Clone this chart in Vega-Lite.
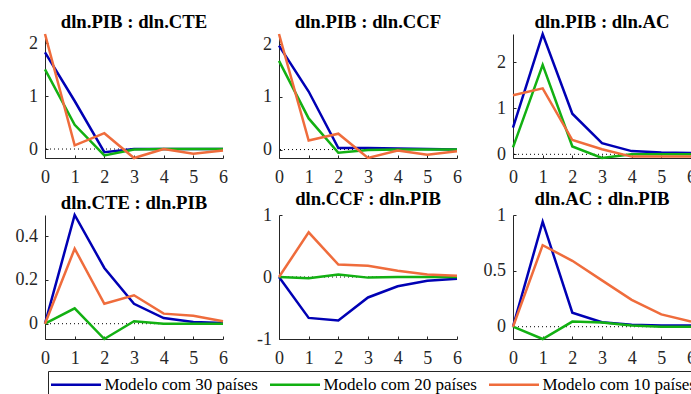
{
  "$schema": "https://vega.github.io/schema/vega-lite/v6.json",
  "padding": {"left": 15, "top": 13, "right": 0, "bottom": 0},
  "background": "white",
  "data": {
    "values": [
      {"painel": "dln.PIB : dln.CTE", "modelo": "Modelo com 30 países", "h": 0, "valor": 1.83},
      {"painel": "dln.PIB : dln.CTE", "modelo": "Modelo com 30 países", "h": 1, "valor": 0.91},
      {"painel": "dln.PIB : dln.CTE", "modelo": "Modelo com 30 países", "h": 2, "valor": -0.06},
      {"painel": "dln.PIB : dln.CTE", "modelo": "Modelo com 30 países", "h": 3, "valor": 0.0},
      {"painel": "dln.PIB : dln.CTE", "modelo": "Modelo com 30 países", "h": 4, "valor": 0.0},
      {"painel": "dln.PIB : dln.CTE", "modelo": "Modelo com 30 países", "h": 5, "valor": 0.0},
      {"painel": "dln.PIB : dln.CTE", "modelo": "Modelo com 30 países", "h": 6, "valor": 0.0},
      {"painel": "dln.PIB : dln.CTE", "modelo": "Modelo com 20 países", "h": 0, "valor": 1.51},
      {"painel": "dln.PIB : dln.CTE", "modelo": "Modelo com 20 países", "h": 1, "valor": 0.46},
      {"painel": "dln.PIB : dln.CTE", "modelo": "Modelo com 20 países", "h": 2, "valor": -0.12},
      {"painel": "dln.PIB : dln.CTE", "modelo": "Modelo com 20 países", "h": 3, "valor": -0.01},
      {"painel": "dln.PIB : dln.CTE", "modelo": "Modelo com 20 países", "h": 4, "valor": 0.0},
      {"painel": "dln.PIB : dln.CTE", "modelo": "Modelo com 20 países", "h": 5, "valor": 0.0},
      {"painel": "dln.PIB : dln.CTE", "modelo": "Modelo com 20 países", "h": 6, "valor": 0.0},
      {"painel": "dln.PIB : dln.CTE", "modelo": "Modelo com 10 países", "h": 0, "valor": 2.18},
      {"painel": "dln.PIB : dln.CTE", "modelo": "Modelo com 10 países", "h": 1, "valor": 0.07},
      {"painel": "dln.PIB : dln.CTE", "modelo": "Modelo com 10 países", "h": 2, "valor": 0.30},
      {"painel": "dln.PIB : dln.CTE", "modelo": "Modelo com 10 países", "h": 3, "valor": -0.17},
      {"painel": "dln.PIB : dln.CTE", "modelo": "Modelo com 10 países", "h": 4, "valor": 0.0},
      {"painel": "dln.PIB : dln.CTE", "modelo": "Modelo com 10 países", "h": 5, "valor": -0.09},
      {"painel": "dln.PIB : dln.CTE", "modelo": "Modelo com 10 países", "h": 6, "valor": -0.03},

      {"painel": "dln.PIB : dln.CCF", "modelo": "Modelo com 30 países", "h": 0, "valor": 1.97},
      {"painel": "dln.PIB : dln.CCF", "modelo": "Modelo com 30 países", "h": 1, "valor": 1.10},
      {"painel": "dln.PIB : dln.CCF", "modelo": "Modelo com 30 países", "h": 2, "valor": 0.03},
      {"painel": "dln.PIB : dln.CCF", "modelo": "Modelo com 30 países", "h": 3, "valor": 0.03},
      {"painel": "dln.PIB : dln.CCF", "modelo": "Modelo com 30 países", "h": 4, "valor": 0.02},
      {"painel": "dln.PIB : dln.CCF", "modelo": "Modelo com 30 países", "h": 5, "valor": 0.01},
      {"painel": "dln.PIB : dln.CCF", "modelo": "Modelo com 30 países", "h": 6, "valor": 0.0},
      {"painel": "dln.PIB : dln.CCF", "modelo": "Modelo com 20 países", "h": 0, "valor": 1.68},
      {"painel": "dln.PIB : dln.CCF", "modelo": "Modelo com 20 países", "h": 1, "valor": 0.59},
      {"painel": "dln.PIB : dln.CCF", "modelo": "Modelo com 20 países", "h": 2, "valor": -0.06},
      {"painel": "dln.PIB : dln.CCF", "modelo": "Modelo com 20 países", "h": 3, "valor": -0.01},
      {"painel": "dln.PIB : dln.CCF", "modelo": "Modelo com 20 países", "h": 4, "valor": 0.0},
      {"painel": "dln.PIB : dln.CCF", "modelo": "Modelo com 20 países", "h": 5, "valor": 0.0},
      {"painel": "dln.PIB : dln.CCF", "modelo": "Modelo com 20 países", "h": 6, "valor": 0.0},
      {"painel": "dln.PIB : dln.CCF", "modelo": "Modelo com 10 países", "h": 0, "valor": 2.19},
      {"painel": "dln.PIB : dln.CCF", "modelo": "Modelo com 10 países", "h": 1, "valor": 0.17},
      {"painel": "dln.PIB : dln.CCF", "modelo": "Modelo com 10 países", "h": 2, "valor": 0.30},
      {"painel": "dln.PIB : dln.CCF", "modelo": "Modelo com 10 países", "h": 3, "valor": -0.16},
      {"painel": "dln.PIB : dln.CCF", "modelo": "Modelo com 10 países", "h": 4, "valor": -0.02},
      {"painel": "dln.PIB : dln.CCF", "modelo": "Modelo com 10 países", "h": 5, "valor": -0.10},
      {"painel": "dln.PIB : dln.CCF", "modelo": "Modelo com 10 países", "h": 6, "valor": -0.03},

      {"painel": "dln.PIB : dln.AC", "modelo": "Modelo com 30 países", "h": 0, "valor": 0.58},
      {"painel": "dln.PIB : dln.AC", "modelo": "Modelo com 30 países", "h": 1, "valor": 2.61},
      {"painel": "dln.PIB : dln.AC", "modelo": "Modelo com 30 países", "h": 2, "valor": 0.88},
      {"painel": "dln.PIB : dln.AC", "modelo": "Modelo com 30 países", "h": 3, "valor": 0.24},
      {"painel": "dln.PIB : dln.AC", "modelo": "Modelo com 30 países", "h": 4, "valor": 0.07},
      {"painel": "dln.PIB : dln.AC", "modelo": "Modelo com 30 países", "h": 5, "valor": 0.04},
      {"painel": "dln.PIB : dln.AC", "modelo": "Modelo com 30 países", "h": 6, "valor": 0.03},
      {"painel": "dln.PIB : dln.AC", "modelo": "Modelo com 20 países", "h": 0, "valor": 0.15},
      {"painel": "dln.PIB : dln.AC", "modelo": "Modelo com 20 países", "h": 1, "valor": 1.94},
      {"painel": "dln.PIB : dln.AC", "modelo": "Modelo com 20 países", "h": 2, "valor": 0.17},
      {"painel": "dln.PIB : dln.AC", "modelo": "Modelo com 20 países", "h": 3, "valor": -0.08},
      {"painel": "dln.PIB : dln.AC", "modelo": "Modelo com 20 países", "h": 4, "valor": 0.0},
      {"painel": "dln.PIB : dln.AC", "modelo": "Modelo com 20 países", "h": 5, "valor": 0.0},
      {"painel": "dln.PIB : dln.AC", "modelo": "Modelo com 20 países", "h": 6, "valor": 0.0},
      {"painel": "dln.PIB : dln.AC", "modelo": "Modelo com 10 países", "h": 0, "valor": 1.28},
      {"painel": "dln.PIB : dln.AC", "modelo": "Modelo com 10 países", "h": 1, "valor": 1.43},
      {"painel": "dln.PIB : dln.AC", "modelo": "Modelo com 10 países", "h": 2, "valor": 0.31},
      {"painel": "dln.PIB : dln.AC", "modelo": "Modelo com 10 países", "h": 3, "valor": 0.11},
      {"painel": "dln.PIB : dln.AC", "modelo": "Modelo com 10 países", "h": 4, "valor": -0.05},
      {"painel": "dln.PIB : dln.AC", "modelo": "Modelo com 10 países", "h": 5, "valor": -0.05},
      {"painel": "dln.PIB : dln.AC", "modelo": "Modelo com 10 países", "h": 6, "valor": -0.05},

      {"painel": "dln.CTE : dln.PIB", "modelo": "Modelo com 30 países", "h": 0, "valor": 0.0},
      {"painel": "dln.CTE : dln.PIB", "modelo": "Modelo com 30 países", "h": 1, "valor": 0.497},
      {"painel": "dln.CTE : dln.PIB", "modelo": "Modelo com 30 países", "h": 2, "valor": 0.255},
      {"painel": "dln.CTE : dln.PIB", "modelo": "Modelo com 30 países", "h": 3, "valor": 0.091},
      {"painel": "dln.CTE : dln.PIB", "modelo": "Modelo com 30 países", "h": 4, "valor": 0.026},
      {"painel": "dln.CTE : dln.PIB", "modelo": "Modelo com 30 países", "h": 5, "valor": 0.008},
      {"painel": "dln.CTE : dln.PIB", "modelo": "Modelo com 30 países", "h": 6, "valor": 0.003},
      {"painel": "dln.CTE : dln.PIB", "modelo": "Modelo com 20 países", "h": 0, "valor": 0.0},
      {"painel": "dln.CTE : dln.PIB", "modelo": "Modelo com 20 países", "h": 1, "valor": 0.07},
      {"painel": "dln.CTE : dln.PIB", "modelo": "Modelo com 20 países", "h": 2, "valor": -0.07},
      {"painel": "dln.CTE : dln.PIB", "modelo": "Modelo com 20 países", "h": 3, "valor": 0.011},
      {"painel": "dln.CTE : dln.PIB", "modelo": "Modelo com 20 países", "h": 4, "valor": 0.0},
      {"painel": "dln.CTE : dln.PIB", "modelo": "Modelo com 20 países", "h": 5, "valor": 0.0},
      {"painel": "dln.CTE : dln.PIB", "modelo": "Modelo com 20 países", "h": 6, "valor": 0.0},
      {"painel": "dln.CTE : dln.PIB", "modelo": "Modelo com 10 países", "h": 0, "valor": 0.0},
      {"painel": "dln.CTE : dln.PIB", "modelo": "Modelo com 10 países", "h": 1, "valor": 0.343},
      {"painel": "dln.CTE : dln.PIB", "modelo": "Modelo com 10 países", "h": 2, "valor": 0.091},
      {"painel": "dln.CTE : dln.PIB", "modelo": "Modelo com 10 países", "h": 3, "valor": 0.13},
      {"painel": "dln.CTE : dln.PIB", "modelo": "Modelo com 10 países", "h": 4, "valor": 0.046},
      {"painel": "dln.CTE : dln.PIB", "modelo": "Modelo com 10 países", "h": 5, "valor": 0.036},
      {"painel": "dln.CTE : dln.PIB", "modelo": "Modelo com 10 países", "h": 6, "valor": 0.011},

      {"painel": "dln.CCF : dln.PIB", "modelo": "Modelo com 30 países", "h": 0, "valor": 0.0},
      {"painel": "dln.CCF : dln.PIB", "modelo": "Modelo com 30 países", "h": 1, "valor": -0.66},
      {"painel": "dln.CCF : dln.PIB", "modelo": "Modelo com 30 países", "h": 2, "valor": -0.70},
      {"painel": "dln.CCF : dln.PIB", "modelo": "Modelo com 30 países", "h": 3, "valor": -0.33},
      {"painel": "dln.CCF : dln.PIB", "modelo": "Modelo com 30 países", "h": 4, "valor": -0.15},
      {"painel": "dln.CCF : dln.PIB", "modelo": "Modelo com 30 países", "h": 5, "valor": -0.06},
      {"painel": "dln.CCF : dln.PIB", "modelo": "Modelo com 30 países", "h": 6, "valor": -0.03},
      {"painel": "dln.CCF : dln.PIB", "modelo": "Modelo com 20 países", "h": 0, "valor": 0.0},
      {"painel": "dln.CCF : dln.PIB", "modelo": "Modelo com 20 países", "h": 1, "valor": -0.02},
      {"painel": "dln.CCF : dln.PIB", "modelo": "Modelo com 20 países", "h": 2, "valor": 0.04},
      {"painel": "dln.CCF : dln.PIB", "modelo": "Modelo com 20 países", "h": 3, "valor": -0.01},
      {"painel": "dln.CCF : dln.PIB", "modelo": "Modelo com 20 países", "h": 4, "valor": 0.0},
      {"painel": "dln.CCF : dln.PIB", "modelo": "Modelo com 20 países", "h": 5, "valor": 0.0},
      {"painel": "dln.CCF : dln.PIB", "modelo": "Modelo com 20 países", "h": 6, "valor": 0.0},
      {"painel": "dln.CCF : dln.PIB", "modelo": "Modelo com 10 países", "h": 0, "valor": 0.0},
      {"painel": "dln.CCF : dln.PIB", "modelo": "Modelo com 10 países", "h": 1, "valor": 0.72},
      {"painel": "dln.CCF : dln.PIB", "modelo": "Modelo com 10 países", "h": 2, "valor": 0.20},
      {"painel": "dln.CCF : dln.PIB", "modelo": "Modelo com 10 países", "h": 3, "valor": 0.18},
      {"painel": "dln.CCF : dln.PIB", "modelo": "Modelo com 10 países", "h": 4, "valor": 0.10},
      {"painel": "dln.CCF : dln.PIB", "modelo": "Modelo com 10 países", "h": 5, "valor": 0.04},
      {"painel": "dln.CCF : dln.PIB", "modelo": "Modelo com 10 países", "h": 6, "valor": 0.02},

      {"painel": "dln.AC : dln.PIB", "modelo": "Modelo com 30 países", "h": 0, "valor": 0.0},
      {"painel": "dln.AC : dln.PIB", "modelo": "Modelo com 30 países", "h": 1, "valor": 0.94},
      {"painel": "dln.AC : dln.PIB", "modelo": "Modelo com 30 países", "h": 2, "valor": 0.126},
      {"painel": "dln.AC : dln.PIB", "modelo": "Modelo com 30 países", "h": 3, "valor": 0.04},
      {"painel": "dln.AC : dln.PIB", "modelo": "Modelo com 30 países", "h": 4, "valor": 0.018},
      {"painel": "dln.AC : dln.PIB", "modelo": "Modelo com 30 países", "h": 5, "valor": 0.01},
      {"painel": "dln.AC : dln.PIB", "modelo": "Modelo com 30 países", "h": 6, "valor": 0.01},
      {"painel": "dln.AC : dln.PIB", "modelo": "Modelo com 20 países", "h": 0, "valor": 0.0},
      {"painel": "dln.AC : dln.PIB", "modelo": "Modelo com 20 países", "h": 1, "valor": -0.11},
      {"painel": "dln.AC : dln.PIB", "modelo": "Modelo com 20 países", "h": 2, "valor": 0.046},
      {"painel": "dln.AC : dln.PIB", "modelo": "Modelo com 20 países", "h": 3, "valor": 0.037},
      {"painel": "dln.AC : dln.PIB", "modelo": "Modelo com 20 países", "h": 4, "valor": 0.01},
      {"painel": "dln.AC : dln.PIB", "modelo": "Modelo com 20 países", "h": 5, "valor": 0.0},
      {"painel": "dln.AC : dln.PIB", "modelo": "Modelo com 20 países", "h": 6, "valor": 0.0},
      {"painel": "dln.AC : dln.PIB", "modelo": "Modelo com 10 países", "h": 0, "valor": 0.0},
      {"painel": "dln.AC : dln.PIB", "modelo": "Modelo com 10 países", "h": 1, "valor": 0.73},
      {"painel": "dln.AC : dln.PIB", "modelo": "Modelo com 10 países", "h": 2, "valor": 0.59},
      {"painel": "dln.AC : dln.PIB", "modelo": "Modelo com 10 países", "h": 3, "valor": 0.415},
      {"painel": "dln.AC : dln.PIB", "modelo": "Modelo com 10 países", "h": 4, "valor": 0.24},
      {"painel": "dln.AC : dln.PIB", "modelo": "Modelo com 10 países", "h": 5, "valor": 0.11},
      {"painel": "dln.AC : dln.PIB", "modelo": "Modelo com 10 países", "h": 6, "valor": 0.046}
    ]
  },
  "columns": 3,
  "bounds": "flush",
  "spacing": {"row": 57, "column": 56},
  "concat": [
    {
      "title": "dln.PIB : dln.CTE",
      "width": 178, "height": 124,
      "layer": [
        {"data": {"values": [{}]}, "mark": {"type": "rule", "color": "black", "strokeWidth": 1, "strokeDash": [1, 3]}, "encoding": {"y": {"datum": 0}}},
        {
          "transform": [{"filter": "datum.painel === 'dln.PIB : dln.CTE'"}],
          "mark": {"type": "line", "strokeWidth": 2.5},
          "encoding": {
            "x": {"field": "h", "type": "quantitative", "scale": {"domain": [0, 6], "nice": false}, "axis": {"values": [0, 1, 2, 3, 4, 5, 6]}},
            "y": {"field": "valor", "type": "quantitative", "scale": {"domain": [-0.17, 2.18], "nice": false, "zero": false}, "axis": {"values": [0, 1, 2]}},
            "color": {"field": "modelo", "type": "nominal", "sort": null, "scale": {"domain": ["Modelo com 30 países", "Modelo com 20 países", "Modelo com 10 países"], "range": ["#0000b4", "#12b012", "#ef6c3c"]}}
          }
        }
      ]
    },
    {
      "title": "dln.PIB : dln.CCF",
      "width": 178, "height": 124,
      "layer": [
        {"data": {"values": [{}]}, "mark": {"type": "rule", "color": "black", "strokeWidth": 1, "strokeDash": [1, 3]}, "encoding": {"y": {"datum": 0}}},
        {
          "transform": [{"filter": "datum.painel === 'dln.PIB : dln.CCF'"}],
          "mark": {"type": "line", "strokeWidth": 2.5},
          "encoding": {
            "x": {"field": "h", "type": "quantitative", "scale": {"domain": [0, 6], "nice": false}, "axis": {"values": [0, 1, 2, 3, 4, 5, 6]}},
            "y": {"field": "valor", "type": "quantitative", "scale": {"domain": [-0.16, 2.19], "nice": false, "zero": false}, "axis": {"values": [0, 1, 2]}},
            "color": {"field": "modelo", "type": "nominal", "sort": null}
          }
        }
      ]
    },
    {
      "title": "dln.PIB : dln.AC",
      "width": 178, "height": 124,
      "layer": [
        {"data": {"values": [{}]}, "mark": {"type": "rule", "color": "black", "strokeWidth": 1, "strokeDash": [1, 3]}, "encoding": {"y": {"datum": 0}}},
        {
          "transform": [{"filter": "datum.painel === 'dln.PIB : dln.AC'"}],
          "mark": {"type": "line", "strokeWidth": 2.5},
          "encoding": {
            "x": {"field": "h", "type": "quantitative", "scale": {"domain": [0, 6], "nice": false}, "axis": {"values": [0, 1, 2, 3, 4, 5, 6]}},
            "y": {"field": "valor", "type": "quantitative", "scale": {"domain": [-0.08, 2.61], "nice": false, "zero": false}, "axis": {"values": [0, 1, 2]}},
            "color": {"field": "modelo", "type": "nominal", "sort": null}
          }
        }
      ]
    },
    {
      "title": "dln.CTE : dln.PIB",
      "width": 178, "height": 124,
      "layer": [
        {"data": {"values": [{}]}, "mark": {"type": "rule", "color": "black", "strokeWidth": 1, "strokeDash": [1, 3]}, "encoding": {"y": {"datum": 0}}},
        {
          "transform": [{"filter": "datum.painel === 'dln.CTE : dln.PIB'"}],
          "mark": {"type": "line", "strokeWidth": 2.5},
          "encoding": {
            "x": {"field": "h", "type": "quantitative", "scale": {"domain": [0, 6], "nice": false}, "axis": {"values": [0, 1, 2, 3, 4, 5, 6]}},
            "y": {"field": "valor", "type": "quantitative", "scale": {"domain": [-0.07, 0.497], "nice": false, "zero": false}, "axis": {"values": [0, 0.2, 0.4]}},
            "color": {"field": "modelo", "type": "nominal", "sort": null}
          }
        }
      ]
    },
    {
      "title": "dln.CCF : dln.PIB",
      "width": 178, "height": 124,
      "layer": [
        {"data": {"values": [{}]}, "mark": {"type": "rule", "color": "black", "strokeWidth": 1, "strokeDash": [1, 3]}, "encoding": {"y": {"datum": 0}}},
        {
          "transform": [{"filter": "datum.painel === 'dln.CCF : dln.PIB'"}],
          "mark": {"type": "line", "strokeWidth": 2.5},
          "encoding": {
            "x": {"field": "h", "type": "quantitative", "scale": {"domain": [0, 6], "nice": false}, "axis": {"values": [0, 1, 2, 3, 4, 5, 6]}},
            "y": {"field": "valor", "type": "quantitative", "scale": {"domain": [-1, 1], "nice": false, "zero": false}, "axis": {"values": [-1, 0, 1]}},
            "color": {"field": "modelo", "type": "nominal", "sort": null}
          }
        }
      ]
    },
    {
      "title": "dln.AC : dln.PIB",
      "width": 178, "height": 124,
      "layer": [
        {"data": {"values": [{}]}, "mark": {"type": "rule", "color": "black", "strokeWidth": 1, "strokeDash": [1, 3]}, "encoding": {"y": {"datum": 0}}},
        {
          "transform": [{"filter": "datum.painel === 'dln.AC : dln.PIB'"}],
          "mark": {"type": "line", "strokeWidth": 2.5},
          "encoding": {
            "x": {"field": "h", "type": "quantitative", "scale": {"domain": [0, 6], "nice": false}, "axis": {"values": [0, 1, 2, 3, 4, 5, 6]}},
            "y": {"field": "valor", "type": "quantitative", "scale": {"domain": [-0.11, 1], "nice": false, "zero": false}, "axis": {"values": [0, 0.5, 1]}},
            "color": {"field": "modelo", "type": "nominal", "sort": null}
          }
        }
      ]
    }
  ],
  "config": {
    "view": {"stroke": null},
    "font": "Liberation Serif, Times New Roman, serif",
    "title": {"font": "Liberation Serif, Times New Roman, serif", "fontSize": 18.7, "fontWeight": "bold", "color": "black", "anchor": "middle", "baseline": "alphabetic", "offset": -3, "frame": "group"},
    "axis": {
      "title": null,
      "grid": false,
      "labelFont": "Liberation Serif, Times New Roman, serif",
      "labelFontSize": 18,
      "labelColor": "#262626",
      "labelAngle": 0,
      "labelExpr": "'' + datum.value",
      "domainColor": "#262626",
      "domainWidth": 1,
      "tickColor": "#262626",
      "tickSize": -3,
      "labelFlush": false,
      "labelOverlap": false
    },
    "axisX": {"labelPadding": 13},
    "axisY": {"labelPadding": 10.5},
    "legend": {
      "title": null,
      "orient": "none",
      "legendX": 3,
      "legendY": 337,
      "direction": "horizontal",
      "strokeColor": "#262626",
      "padding": 5,
      "symbolType": "M-5,0H5",
      "symbolSize": 100,
      "symbolStrokeWidth": 2.5,
      "symbolOffset": 14.5,
      "labelFont": "Liberation Serif, Times New Roman, serif",
      "labelFontSize": 17,
      "labelColor": "black",
      "labelLimit": 300,
      "labelOffset": 20,
      "columnPadding": 7
    }
  }
}
